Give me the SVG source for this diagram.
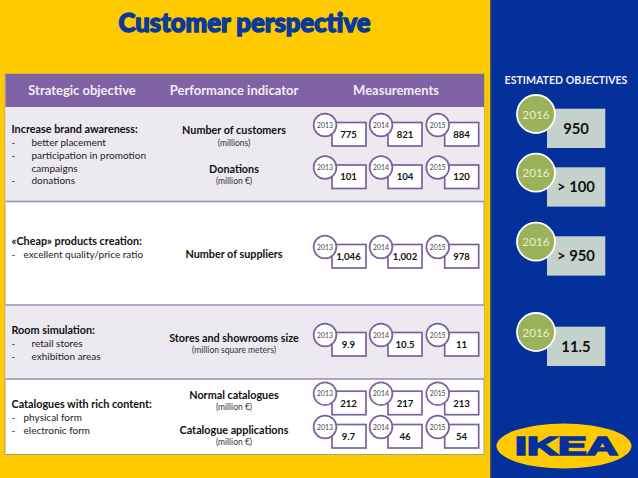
<svg xmlns="http://www.w3.org/2000/svg" width="638" height="478" viewBox="0 0 638 478">
<style>
text{font-family:Lato,"Open Sans","Liberation Sans",sans-serif;fill:#111}
.title{font-size:25.7px;font-weight:900;fill:#0a3a97;stroke:#0a3a97;stroke-width:1.4px;text-anchor:middle}
.h{font-size:13px;font-weight:700;fill:#f0ecf6;text-anchor:middle}
.b{font-size:10.8px;font-weight:700}
.l{font-size:10px;fill:#222}
.ind{font-size:10.8px;font-weight:700;text-anchor:middle}
.u{font-size:8.5px;text-anchor:middle;fill:#333}
.box{fill:#fff;stroke:#7b619f;stroke-width:1.7}
.yc{fill:#fff;stroke:#7b619f;stroke-width:1.7}
.y{font-size:6.8px;text-anchor:middle;fill:#444}
.v{font-size:9.6px;font-weight:700;text-anchor:middle}
.ob{fill:#c5d2cc}
.oc{fill:#9bb25a;stroke:#fff;stroke-width:1.8}
.oy{font-size:11.8px;text-anchor:middle;fill:#e6eed2}
.ov{font-size:14.8px;font-weight:700;text-anchor:middle}
.sep{stroke:#9c88b8;stroke-width:1.3}
</style>
<defs>
<g id="m">
<rect class="box" x="7" y="-2.5" width="34" height="23.5"/>
<circle class="yc" r="11.4"/>
</g>
</defs>
<rect width="638" height="478" fill="#ffcb00"/>
<rect x="491" width="147" height="478" fill="#03309a"/>
<rect x="490" width="1.3" height="478" fill="#4a5a50"/>
<text class="title" x="244.500" y="32">Customer perspective</text>

<g id="table">
<rect x="5" y="74" width="479" height="380.500" fill="#fff" stroke="#a9a27a" stroke-width="1"/>
<rect x="5.500" y="74" width="478.500" height="33" fill="#7f62a3"/>
<rect x="5.500" y="107" width="478.500" height="94" fill="#ece9f0"/>
<rect x="5.500" y="305" width="478.500" height="74" fill="#ece9f0"/>
<line class="sep" x1="5.500" x2="484" y1="201.500" y2="201.500"/>
<line class="sep" x1="5.500" x2="484" y1="305" y2="305"/>
<line class="sep" x1="5.500" x2="484" y1="379" y2="379"/>
<text class="h" x="82" y="95">Strategic objective</text>
<text class="h" x="234" y="95">Performance indicator</text>
<text class="h" x="396" y="95">Measurements</text>
</g>

<g id="objective-1">
<text class="b" x="11.500" y="133">Increase brand awareness:</text>
<text class="l" x="11.500" y="146">-</text><text class="l" x="31.500" y="146">better placement</text>
<text class="l" x="11.500" y="159">-</text><text class="l" x="31.500" y="159">participation in promotion</text>
<text class="l" x="31.500" y="171.500">campaigns</text>
<text class="l" x="11.500" y="184">-</text><text class="l" x="31.500" y="184">donations</text>
</g>
<g id="objective-2">
<text class="b" x="11.500" y="245">«Cheap» products creation:</text>
<text class="l" x="11.500" y="258">-</text><text class="l" x="23.500" y="258">excellent quality/price ratio</text>
</g>
<g id="objective-3">
<text class="b" x="11.500" y="333.500">Room simulation:</text>
<text class="l" x="11.500" y="346.500">-</text><text class="l" x="31.500" y="346.500">retail stores</text>
<text class="l" x="11.500" y="359.500">-</text><text class="l" x="31.500" y="359.500">exhibition areas</text>
</g>
<g id="objective-4">
<text class="b" x="11.500" y="408">Catalogues with rich content:</text>
<text class="l" x="11.500" y="421">-</text><text class="l" x="23.500" y="421">physical form</text>
<text class="l" x="11.500" y="433.500">-</text><text class="l" x="23.500" y="433.500">electronic form</text>
</g>

<g id="indicators">
<text class="ind" x="234" y="134">Number of customers</text><text class="u" x="234" y="146">(millions)</text>
<text class="ind" x="234" y="172.500">Donations</text><text class="u" x="234" y="184">(million €)</text>
<text class="ind" x="234" y="258">Number of suppliers</text>
<text class="ind" x="234" y="341.500">Stores and showrooms size</text><text class="u" x="234" y="353">(million square meters)</text>
<text class="ind" x="234" y="398.500">Normal catalogues</text><text class="u" x="234" y="410">(million €)</text>
<text class="ind" x="234" y="433.500">Catalogue applications</text><text class="u" x="234" y="445">(million €)</text>
</g>

<g id="measure-customers">
<use href="#m" x="325" y="125"/><use href="#m" x="381" y="125"/><use href="#m" x="437.700" y="125"/>
<text class="y" x="325" y="127.500">2013</text><text class="y" x="381" y="127.500">2014</text><text class="y" x="437.700" y="127.500">2015</text>
<text class="v" x="348.500" y="137.500">775</text><text class="v" x="405" y="137.500">821</text><text class="v" x="461.500" y="137.500">884</text>
</g>
<g id="measure-donations">
<use href="#m" x="325" y="167.500"/><use href="#m" x="381" y="167.500"/><use href="#m" x="437.700" y="167.500"/>
<text class="y" x="325" y="170">2013</text><text class="y" x="381" y="170">2014</text><text class="y" x="437.700" y="170">2015</text>
<text class="v" x="348.500" y="180">101</text><text class="v" x="405" y="180">104</text><text class="v" x="461.500" y="180">120</text>
</g>
<g id="measure-suppliers">
<use href="#m" x="325" y="247"/><use href="#m" x="381" y="247"/><use href="#m" x="437.700" y="247"/>
<text class="y" x="325" y="249.500">2013</text><text class="y" x="381" y="249.500">2014</text><text class="y" x="437.700" y="249.500">2015</text>
<text class="v" x="348.500" y="260">1,046</text><text class="v" x="405" y="260">1,002</text><text class="v" x="461.500" y="260">978</text>
</g>
<g id="measure-stores">
<use href="#m" x="325" y="335"/><use href="#m" x="381" y="335"/><use href="#m" x="437.700" y="335"/>
<text class="y" x="325" y="337.500">2013</text><text class="y" x="381" y="337.500">2014</text><text class="y" x="437.700" y="337.500">2015</text>
<text class="v" x="348.500" y="347.500">9.9</text><text class="v" x="405" y="347.500">10.5</text><text class="v" x="461.500" y="347.500">11</text>
</g>
<g id="measure-catalogues">
<use href="#m" x="325" y="393.700"/><use href="#m" x="381" y="393.700"/><use href="#m" x="437.700" y="393.700"/>
<text class="y" x="325" y="396.200">2013</text><text class="y" x="381" y="396.200">2014</text><text class="y" x="437.700" y="396.200">2015</text>
<text class="v" x="348.500" y="406.500">212</text><text class="v" x="405" y="406.500">217</text><text class="v" x="461.500" y="406.500">213</text>
</g>
<g id="measure-apps">
<use href="#m" x="325" y="427"/><use href="#m" x="381" y="427"/><use href="#m" x="437.700" y="427"/>
<text class="y" x="325" y="429.500">2013</text><text class="y" x="381" y="429.500">2014</text><text class="y" x="437.700" y="429.500">2015</text>
<text class="v" x="348.500" y="439.500">9.7</text><text class="v" x="405" y="439.500">46</text><text class="v" x="461.500" y="439.500">54</text>
</g>

<text x="566" y="84" font-size="10.6" font-weight="700" text-anchor="middle" style="fill:#eef1f8">ESTIMATED OBJECTIVES</text>
<g id="target-1"><rect class="ob" x="547" y="108.700" width="58.300" height="39.300"/><circle class="oc" cx="536" cy="114" r="19"/><text class="oy" x="536" y="118.500">2016</text><text class="ov" x="576" y="133.500">950</text></g>
<g id="target-2"><rect class="ob" x="547" y="167.300" width="58.300" height="39.300"/><circle class="oc" cx="536" cy="172.700" r="19"/><text class="oy" x="536" y="177">2016</text><text class="ov" x="576" y="192">&gt; 100</text></g>
<g id="target-3"><rect class="ob" x="547" y="236.300" width="58.300" height="39.300"/><circle class="oc" cx="536" cy="241.700" r="19"/><text class="oy" x="536" y="246">2016</text><text class="ov" x="576" y="261">&gt; 950</text></g>
<g id="target-4"><rect class="ob" x="547" y="326.700" width="58.300" height="39.300"/><circle class="oc" cx="536" cy="332" r="19"/><text class="oy" x="536" y="336.500">2016</text><text class="ov" x="576" y="351.500">11.5</text></g>

<g id="logo">
<ellipse cx="564" cy="446" rx="67.500" ry="22.500" fill="#ffcb00"/>
<text x="515" y="455" font-size="25" textLength="103" lengthAdjust="spacingAndGlyphs" style="font-family:'Liberation Sans',sans-serif;font-weight:700;fill:#03309a;stroke:#03309a;stroke-width:1.600px">IKEA</text>
</g>
</svg>
